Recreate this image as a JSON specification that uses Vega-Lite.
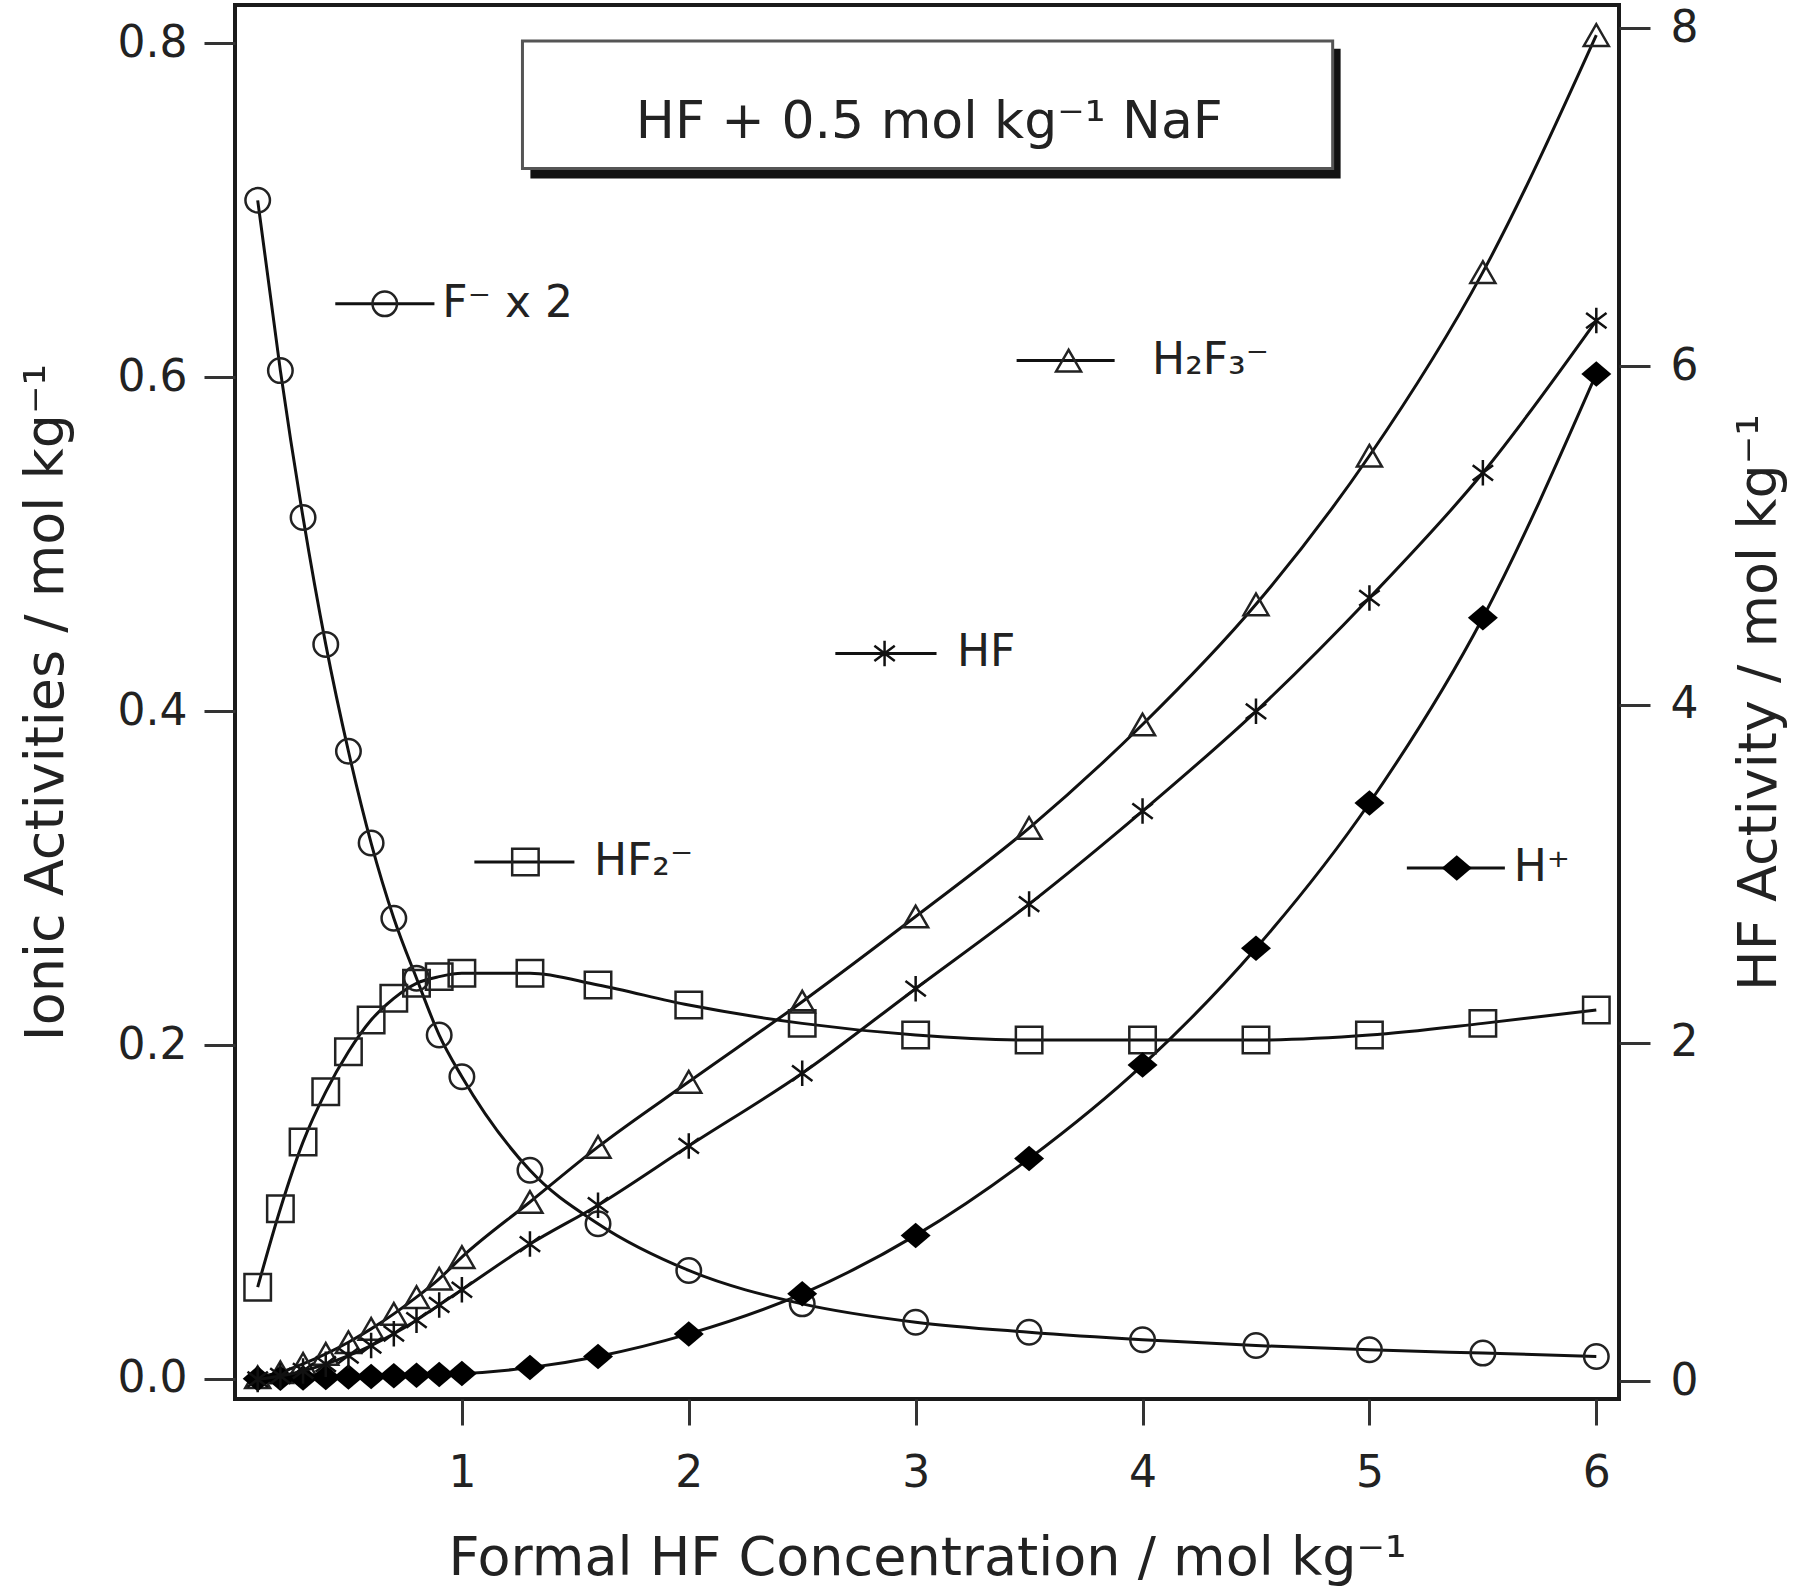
{
  "$schema": "https://vega.github.io/schema/vega-lite/v6.json",
  "width": 1384,
  "height": 1394,
  "autosize": {"type": "none"},
  "padding": {"left": 235, "top": 5, "right": 181, "bottom": 190},
  "background": "white",
  "config": {
    "view": {"stroke": "#1a1a1a", "strokeWidth": 4},
    "font": "DejaVu Sans",
    "axis": {
      "domain": false, "grid": false, "tickColor": "#333", "tickWidth": 3,
      "labelFont": "DejaVu Sans", "labelFontSize": 44, "labelColor": "#222",
      "titleFont": "DejaVu Sans", "titleFontSize": 54, "titleFontWeight": "normal", "titleColor": "#222"
    }
  },
  "datasets": {
    "ions": [
      {"x": 0.1, "y": 0.706, "sp": "F"}, {"x": 0.2, "y": 0.604, "sp": "F"}, {"x": 0.3, "y": 0.516, "sp": "F"}, {"x": 0.4, "y": 0.440, "sp": "F"}, {"x": 0.5, "y": 0.376, "sp": "F"}, {"x": 0.6, "y": 0.321, "sp": "F"}, {"x": 0.7, "y": 0.276, "sp": "F"}, {"x": 0.8, "y": 0.240, "sp": "F"}, {"x": 0.9, "y": 0.206, "sp": "F"}, {"x": 1.0, "y": 0.181, "sp": "F"}, {"x": 1.3, "y": 0.125, "sp": "F"}, {"x": 1.6, "y": 0.093, "sp": "F"}, {"x": 2.0, "y": 0.065, "sp": "F"}, {"x": 2.5, "y": 0.045, "sp": "F"}, {"x": 3.0, "y": 0.034, "sp": "F"}, {"x": 3.5, "y": 0.028, "sp": "F"}, {"x": 4.0, "y": 0.0235, "sp": "F"}, {"x": 4.5, "y": 0.020, "sp": "F"}, {"x": 5.0, "y": 0.0175, "sp": "F"}, {"x": 5.5, "y": 0.0155, "sp": "F"}, {"x": 6.0, "y": 0.0135, "sp": "F"},
      {"x": 0.1, "y": 0.055, "sp": "HF2"}, {"x": 0.2, "y": 0.102, "sp": "HF2"}, {"x": 0.3, "y": 0.142, "sp": "HF2"}, {"x": 0.4, "y": 0.172, "sp": "HF2"}, {"x": 0.5, "y": 0.196, "sp": "HF2"}, {"x": 0.6, "y": 0.215, "sp": "HF2"}, {"x": 0.7, "y": 0.228, "sp": "HF2"}, {"x": 0.8, "y": 0.237, "sp": "HF2"}, {"x": 0.9, "y": 0.241, "sp": "HF2"}, {"x": 1.0, "y": 0.243, "sp": "HF2"}, {"x": 1.3, "y": 0.243, "sp": "HF2"}, {"x": 1.6, "y": 0.236, "sp": "HF2"}, {"x": 2.0, "y": 0.224, "sp": "HF2"}, {"x": 2.5, "y": 0.213, "sp": "HF2"}, {"x": 3.0, "y": 0.206, "sp": "HF2"}, {"x": 3.5, "y": 0.203, "sp": "HF2"}, {"x": 4.0, "y": 0.203, "sp": "HF2"}, {"x": 4.5, "y": 0.203, "sp": "HF2"}, {"x": 5.0, "y": 0.206, "sp": "HF2"}, {"x": 5.5, "y": 0.213, "sp": "HF2"}, {"x": 6.0, "y": 0.221, "sp": "HF2"},
      {"x": 0.1, "y": 0.001, "sp": "H2F3"}, {"x": 0.2, "y": 0.004, "sp": "H2F3"}, {"x": 0.3, "y": 0.009, "sp": "H2F3"}, {"x": 0.4, "y": 0.015, "sp": "H2F3"}, {"x": 0.5, "y": 0.022, "sp": "H2F3"}, {"x": 0.6, "y": 0.030, "sp": "H2F3"}, {"x": 0.7, "y": 0.039, "sp": "H2F3"}, {"x": 0.8, "y": 0.049, "sp": "H2F3"}, {"x": 0.9, "y": 0.060, "sp": "H2F3"}, {"x": 1.0, "y": 0.073, "sp": "H2F3"}, {"x": 1.3, "y": 0.106, "sp": "H2F3"}, {"x": 1.6, "y": 0.139, "sp": "H2F3"}, {"x": 2.0, "y": 0.178, "sp": "H2F3"}, {"x": 2.5, "y": 0.226, "sp": "H2F3"}, {"x": 3.0, "y": 0.277, "sp": "H2F3"}, {"x": 3.5, "y": 0.330, "sp": "H2F3"}, {"x": 4.0, "y": 0.392, "sp": "H2F3"}, {"x": 4.5, "y": 0.464, "sp": "H2F3"}, {"x": 5.0, "y": 0.553, "sp": "H2F3"}, {"x": 5.5, "y": 0.663, "sp": "H2F3"}, {"x": 6.0, "y": 0.805, "sp": "H2F3"},
      {"x": 0.1, "y": 0.0002, "sp": "H"}, {"x": 0.2, "y": 0.0004, "sp": "H"}, {"x": 0.3, "y": 0.0006, "sp": "H"}, {"x": 0.4, "y": 0.0009, "sp": "H"}, {"x": 0.5, "y": 0.0012, "sp": "H"}, {"x": 0.6, "y": 0.0015, "sp": "H"}, {"x": 0.7, "y": 0.0019, "sp": "H"}, {"x": 0.8, "y": 0.0023, "sp": "H"}, {"x": 0.9, "y": 0.0027, "sp": "H"}, {"x": 1.0, "y": 0.0032, "sp": "H"}, {"x": 1.3, "y": 0.0068, "sp": "H"}, {"x": 1.6, "y": 0.0135, "sp": "H"}, {"x": 2.0, "y": 0.027, "sp": "H"}, {"x": 2.5, "y": 0.051, "sp": "H"}, {"x": 3.0, "y": 0.086, "sp": "H"}, {"x": 3.5, "y": 0.132, "sp": "H"}, {"x": 4.0, "y": 0.188, "sp": "H"}, {"x": 4.5, "y": 0.258, "sp": "H"}, {"x": 5.0, "y": 0.345, "sp": "H"}, {"x": 5.5, "y": 0.456, "sp": "H"}, {"x": 6.0, "y": 0.602, "sp": "H"}
    ],
    "hf": [
      {"x": 0.1, "y": 0.01}, {"x": 0.2, "y": 0.03}, {"x": 0.3, "y": 0.06}, {"x": 0.4, "y": 0.10}, {"x": 0.5, "y": 0.15}, {"x": 0.6, "y": 0.21}, {"x": 0.7, "y": 0.28}, {"x": 0.8, "y": 0.36}, {"x": 0.9, "y": 0.45}, {"x": 1.0, "y": 0.54}, {"x": 1.3, "y": 0.81}, {"x": 1.6, "y": 1.04}, {"x": 2.0, "y": 1.39}, {"x": 2.5, "y": 1.82}, {"x": 3.0, "y": 2.32}, {"x": 3.5, "y": 2.82}, {"x": 4.0, "y": 3.37}, {"x": 4.5, "y": 3.96}, {"x": 5.0, "y": 4.63}, {"x": 5.5, "y": 5.37}, {"x": 6.0, "y": 6.27}
    ],
    "leg": [
      {"sp": "F", "x": 0.442, "x2": 0.879, "xm": 0.66, "xt": 0.914, "y": 0.644, "label": "F⁻ x 2"},
      {"sp": "H2F3", "x": 3.445, "x2": 3.877, "xm": 3.674, "xt": 4.042, "y": 0.610, "label": "H₂F₃⁻"},
      {"sp": "HF", "x": 2.646, "x2": 3.092, "xm": 2.863, "xt": 3.182, "y": 0.4346, "label": "HF"},
      {"sp": "HF2", "x": 1.055, "x2": 1.496, "xm": 1.28, "xt": 1.582, "y": 0.3096, "label": "HF₂⁻"},
      {"sp": "H", "x": 5.165, "x2": 5.597, "xm": 5.385, "xt": 5.636, "y": 0.306, "label": "H⁺"}
    ],
    "box": [
      {"x": 1.267, "x2": 4.838, "y": 0.8015, "y2": 0.7251, "sx": 1.302, "sx2": 4.873, "sy": 0.7968, "sy2": 0.7191, "xc": 3.06, "yc": 0.753, "label": "HF + 0.5 mol kg⁻¹ NaF"}
    ]
  },
  "layer": [
    {
      "layer": [
        {
          "data": {"name": "box"},
          "mark": {"type": "rect", "fill": "#111"},
          "encoding": {
            "x": {"field": "sx", "type": "quantitative", "scale": {"domain": [0, 6.1], "nice": false, "zero": false}, "title": "Formal HF Concentration / mol kg⁻¹",
                  "axis": {"values": [1, 2, 3, 4, 5, 6], "format": "d", "tickSize": 26, "labelPadding": 26, "titlePadding": 36}},
            "x2": {"field": "sx2"},
            "y": {"field": "sy", "type": "quantitative", "scale": {"domain": [-0.012, 0.823], "nice": false, "zero": false}, "title": "Ionic Activities / mol kg⁻¹",
                  "axis": {"orient": "left", "values": [0, 0.2, 0.4, 0.6, 0.8], "format": ".1f", "tickSize": 31, "labelPadding": 17, "titlePadding": 44}},
            "y2": {"field": "sy2"}
          }
        },
        {
          "data": {"name": "box"},
          "mark": {"type": "rect", "fill": "white", "stroke": "#555", "strokeWidth": 3},
          "encoding": {
            "x": {"field": "x", "type": "quantitative", "title": "Formal HF Concentration / mol kg⁻¹"},
            "x2": {"field": "x2"},
            "y": {"field": "y", "type": "quantitative", "title": "Ionic Activities / mol kg⁻¹"},
            "y2": {"field": "y2"}
          }
        },
        {
          "data": {"name": "box"},
          "mark": {"type": "text", "font": "DejaVu Sans", "fontSize": 52, "color": "#222", "align": "center", "baseline": "middle"},
          "encoding": {
            "x": {"field": "xc", "type": "quantitative", "title": "Formal HF Concentration / mol kg⁻¹"},
            "y": {"field": "yc", "type": "quantitative", "title": "Ionic Activities / mol kg⁻¹"},
            "text": {"field": "label"}
          }
        },
        {
          "data": {"name": "ions"},
          "mark": {"type": "line", "interpolate": "monotone", "color": "#111", "strokeWidth": 3},
          "encoding": {
            "x": {"field": "x", "type": "quantitative", "title": "Formal HF Concentration / mol kg⁻¹"},
            "y": {"field": "y", "type": "quantitative", "title": "Ionic Activities / mol kg⁻¹"},
            "detail": {"field": "sp"}
          }
        },
        {
          "data": {"name": "ions"},
          "transform": [{"filter": "datum.sp === 'F'"}],
          "mark": {"type": "point", "shape": "circle", "size": 600, "filled": false, "stroke": "#222", "strokeWidth": 2.5, "opacity": 1},
          "encoding": {
            "x": {"field": "x", "type": "quantitative", "title": "Formal HF Concentration / mol kg⁻¹"},
            "y": {"field": "y", "type": "quantitative", "title": "Ionic Activities / mol kg⁻¹"}
          }
        },
        {
          "data": {"name": "ions"},
          "transform": [{"filter": "datum.sp === 'HF2'"}],
          "mark": {"type": "point", "shape": "square", "size": 700, "filled": false, "stroke": "#222", "strokeWidth": 2.5, "opacity": 1},
          "encoding": {
            "x": {"field": "x", "type": "quantitative", "title": "Formal HF Concentration / mol kg⁻¹"},
            "y": {"field": "y", "type": "quantitative", "title": "Ionic Activities / mol kg⁻¹"}
          }
        },
        {
          "data": {"name": "ions"},
          "transform": [{"filter": "datum.sp === 'H2F3'"}],
          "mark": {"type": "point", "shape": "triangle-up", "size": 625, "filled": false, "stroke": "#222", "strokeWidth": 2.5, "opacity": 1},
          "encoding": {
            "x": {"field": "x", "type": "quantitative", "title": "Formal HF Concentration / mol kg⁻¹"},
            "y": {"field": "y", "type": "quantitative", "title": "Ionic Activities / mol kg⁻¹"}
          }
        },
        {
          "data": {"name": "ions"},
          "transform": [{"filter": "datum.sp === 'H'"}],
          "mark": {"type": "point", "shape": "M-1,0L0,-0.85L1,0L0,0.85Z", "size": 900, "filled": true, "fill": "#000", "opacity": 1},
          "encoding": {
            "x": {"field": "x", "type": "quantitative", "title": "Formal HF Concentration / mol kg⁻¹"},
            "y": {"field": "y", "type": "quantitative", "title": "Ionic Activities / mol kg⁻¹"}
          }
        },
        {
          "data": {"name": "leg"},
          "mark": {"type": "rule", "color": "#111", "strokeWidth": 3},
          "encoding": {
            "x": {"field": "x", "type": "quantitative", "title": "Formal HF Concentration / mol kg⁻¹"},
            "x2": {"field": "x2"},
            "y": {"field": "y", "type": "quantitative", "title": "Ionic Activities / mol kg⁻¹"}
          }
        },
        {
          "data": {"name": "leg"},
          "transform": [{"filter": "datum.sp === 'F'"}],
          "mark": {"type": "point", "shape": "circle", "size": 600, "filled": false, "stroke": "#222", "strokeWidth": 2.5, "opacity": 1},
          "encoding": {
            "x": {"field": "xm", "type": "quantitative", "title": "Formal HF Concentration / mol kg⁻¹"},
            "y": {"field": "y", "type": "quantitative", "title": "Ionic Activities / mol kg⁻¹"}
          }
        },
        {
          "data": {"name": "leg"},
          "transform": [{"filter": "datum.sp === 'HF2'"}],
          "mark": {"type": "point", "shape": "square", "size": 700, "filled": false, "stroke": "#222", "strokeWidth": 2.5, "opacity": 1},
          "encoding": {
            "x": {"field": "xm", "type": "quantitative", "title": "Formal HF Concentration / mol kg⁻¹"},
            "y": {"field": "y", "type": "quantitative", "title": "Ionic Activities / mol kg⁻¹"}
          }
        },
        {
          "data": {"name": "leg"},
          "transform": [{"filter": "datum.sp === 'H2F3'"}],
          "mark": {"type": "point", "shape": "triangle-up", "size": 625, "filled": false, "stroke": "#222", "strokeWidth": 2.5, "opacity": 1},
          "encoding": {
            "x": {"field": "xm", "type": "quantitative", "title": "Formal HF Concentration / mol kg⁻¹"},
            "y": {"field": "y", "type": "quantitative", "title": "Ionic Activities / mol kg⁻¹"}
          }
        },
        {
          "data": {"name": "leg"},
          "transform": [{"filter": "datum.sp === 'H'"}],
          "mark": {"type": "point", "shape": "M-1,0L0,-0.85L1,0L0,0.85Z", "size": 900, "filled": true, "fill": "#000", "opacity": 1},
          "encoding": {
            "x": {"field": "xm", "type": "quantitative", "title": "Formal HF Concentration / mol kg⁻¹"},
            "y": {"field": "y", "type": "quantitative", "title": "Ionic Activities / mol kg⁻¹"}
          }
        },
        {
          "data": {"name": "leg"},
          "transform": [{"filter": "datum.sp === 'HF'"}],
          "mark": {"type": "point", "shape": "M0,-1L0,1M-0.8,-0.6L0.8,0.6M-0.8,0.6L0.8,-0.6", "size": 650, "filled": false, "stroke": "#111", "strokeWidth": 2.5, "opacity": 1},
          "encoding": {
            "x": {"field": "xm", "type": "quantitative", "title": "Formal HF Concentration / mol kg⁻¹"},
            "y": {"field": "y", "type": "quantitative", "title": "Ionic Activities / mol kg⁻¹"}
          }
        },
        {
          "data": {"name": "leg"},
          "mark": {"type": "text", "font": "DejaVu Sans", "fontSize": 44, "color": "#222", "align": "left", "baseline": "middle"},
          "encoding": {
            "x": {"field": "xt", "type": "quantitative", "title": "Formal HF Concentration / mol kg⁻¹"},
            "y": {"field": "y", "type": "quantitative", "title": "Ionic Activities / mol kg⁻¹"},
            "text": {"field": "label"}
          }
        }
      ]
    },
    {
      "data": {"name": "hf"},
      "layer": [
        {
          "mark": {"type": "line", "interpolate": "monotone", "color": "#111", "strokeWidth": 3},
          "encoding": {
            "x": {"field": "x", "type": "quantitative", "scale": {"domain": [0, 6.1], "nice": false, "zero": false}, "title": "Formal HF Concentration / mol kg⁻¹",
                  "axis": {"values": [1, 2, 3, 4, 5, 6], "format": "d", "tickSize": 26, "labelPadding": 26, "titlePadding": 36}},
            "y": {"field": "y", "type": "quantitative", "scale": {"domain": [-0.106, 8.136], "nice": false, "zero": false}, "title": "HF Activity / mol kg⁻¹",
                  "axis": {"orient": "right", "values": [0, 2, 4, 6, 8], "format": "d", "tickSize": 31, "labelPadding": 20, "titleAngle": 270, "titleBaseline": "top", "titlePadding": 35}}
          }
        },
        {
          "mark": {"type": "point", "shape": "M0,-1L0,1M-0.8,-0.6L0.8,0.6M-0.8,0.6L0.8,-0.6", "size": 650, "filled": false, "stroke": "#111", "strokeWidth": 2.5, "opacity": 1},
          "encoding": {
            "x": {"field": "x", "type": "quantitative", "title": "Formal HF Concentration / mol kg⁻¹"},
            "y": {"field": "y", "type": "quantitative", "title": "HF Activity / mol kg⁻¹"}
          }
        }
      ]
    }
  ],
  "resolve": {"scale": {"y": "independent"}, "axis": {"y": "independent"}}
}
